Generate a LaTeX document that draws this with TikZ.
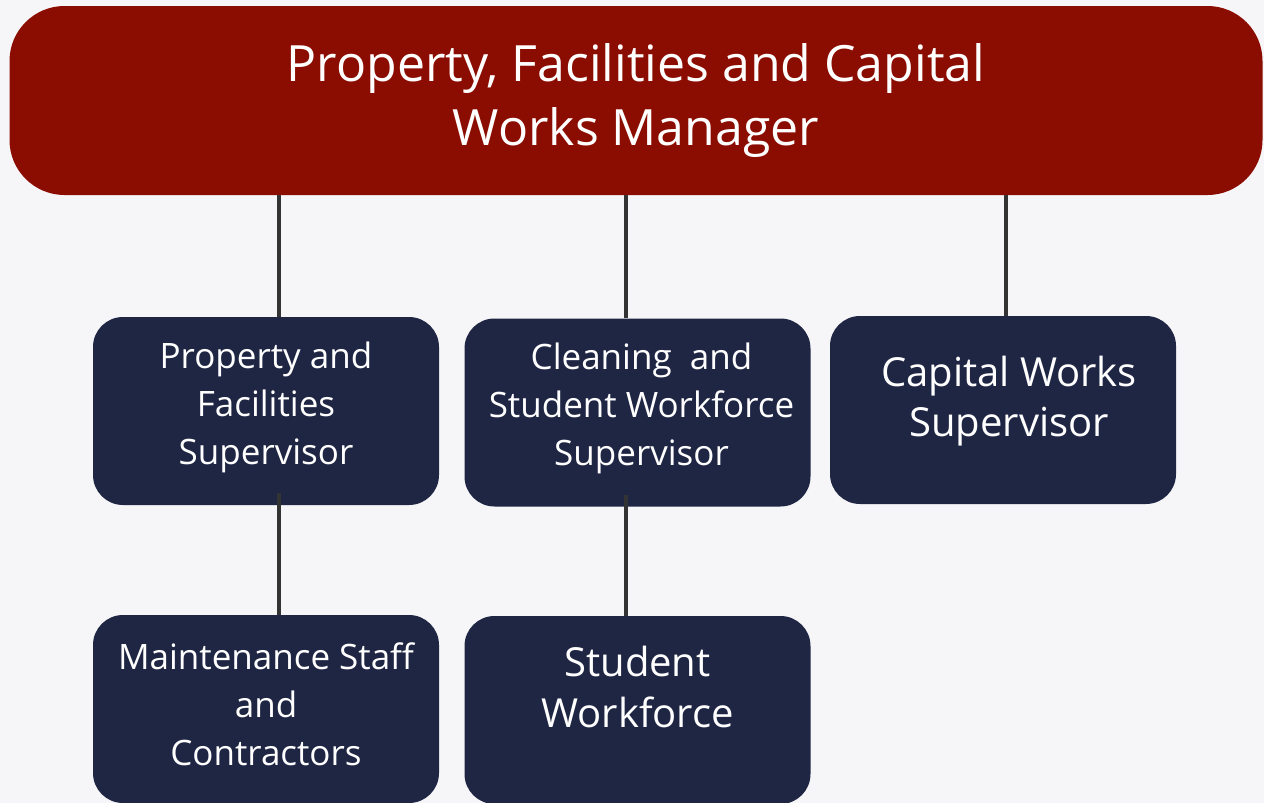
\documentclass[tikz,border=0pt]{standalone}
\usepackage{fontspec}
\setmainfont{Open Sans}
\usetikzlibrary{positioning}
\definecolor{pagebg}{HTML}{F6F6F8}
\definecolor{headred}{HTML}{8B0C00}
\definecolor{navy}{HTML}{1F2644}
\definecolor{linkgrey}{HTML}{333333}
\tikzstyle{box} = [rectangle, fill=navy, rounded corners=30, minimum width=346, minimum height=188, inner sep=0]
\tikzstyle{boxtext} = [align=center, text=white, inner sep=0, font=\fontsize{35}{48}\selectfont]
\tikzstyle{headbox} = [rectangle, fill=headred, rounded corners=55, minimum width=1253, minimum height=189,
    inner sep=0, align=center, text=white, font=\fontsize{50}{64}\selectfont]
\tikzstyle{link} = [draw=linkgrey, line width=4]

\begin{document}
\begin{tikzpicture}[x=1pt, y=-1pt]
    \fill[pagebg] (0,0) rectangle (1264,803);
    \useasboundingbox (0,0) rectangle (1264,803);

    \node[headbox] (manager) at (636,100.5) {Property, Facilities and Capital\\Works Manager};

    % staff boxes, text placed a little above centre
    \node[box] (pfsup) at (266,411) {};
    \node[boxtext] (pfsuptxt) at ([yshift=4]pfsup.center) {Property and\\Facilities\\Supervisor};
    \node[box] (cleansup) at (637.5,412.5) {};
    \node[boxtext] (cleansuptxt) at ([xshift=4,yshift=4]cleansup.center) {Cleaning~ and\\Student Workforce\\Supervisor};
    \node[box] (capsup) at (1003,410) {};
    \node[boxtext, font=\fontsize{40}{50}\selectfont] (capsuptxt) at ([xshift=6,yshift=9]capsup.center) {Capital Works\\Supervisor};
    \node[box] (maint) at (266,709) {};
    \node[boxtext] (mainttxt) at ([yshift=5]maint.center) {Maintenance Staff\\and\\Contractors};
    \node[box] (students) at (637.5,710) {};
    \node[boxtext, font=\fontsize{40}{51}\selectfont] (studentstxt) at ([yshift=23]students.center) {Student\\Workforce};

    % reporting lines
    \coordinate (colA) at (279,0);
    \coordinate (colB) at (626,0);
    \coordinate (colC) at (1006,0);
    \draw[link] (manager.south -| colA) -- (pfsup.north -| colA);
    \draw[link] (manager.south -| colB) -- (cleansup.north -| colB);
    \draw[link] (manager.south -| colC) -- (capsup.north -| colC);
    \draw[link] ([yshift=12]pfsup.south -| colA) -- (maint.north -| colA);
    \draw[link] ([yshift=12]cleansup.south -| colB) -- (students.north -| colB);
\end{tikzpicture}
\end{document}
